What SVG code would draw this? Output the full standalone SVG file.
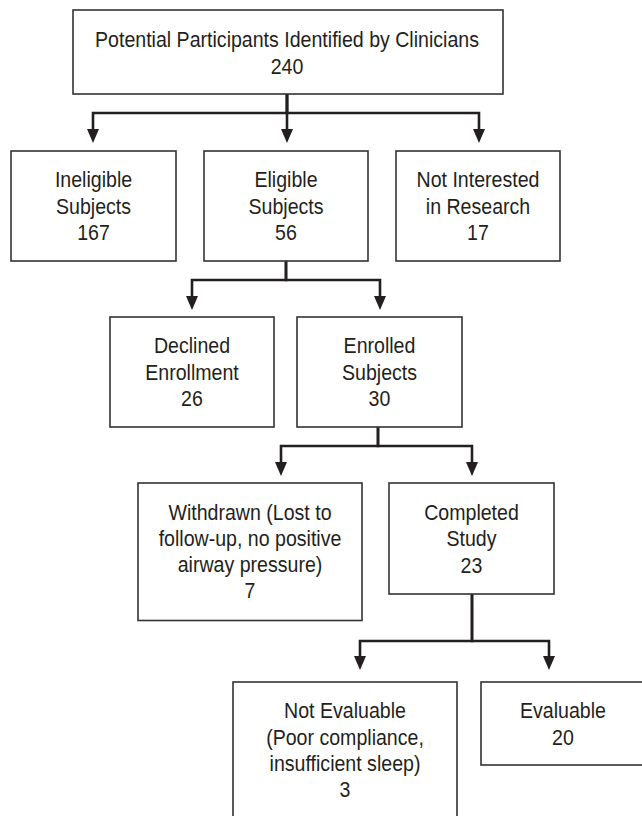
<svg xmlns="http://www.w3.org/2000/svg" width="642" height="816" viewBox="0 0 642 816">
<style>
.box{fill:#fff;stroke:#333;stroke-width:1.6}
.t{font-family:"Liberation Sans",Arial,sans-serif;font-size:22px;fill:#231f20;text-anchor:middle}
.c{fill:none;stroke:#231f20;stroke-width:2.6;marker-end:url(#ah)}
</style>
<defs>
<marker id="ah" markerUnits="userSpaceOnUse" markerWidth="15" markerHeight="13" refX="0" refY="6" orient="auto" viewBox="0 0 15 12">
<path d="M0,0 L14,6 L0,12 z" fill="#231f20"/>
</marker>
</defs>
<rect width="642" height="816" fill="#fff"/>
<g id="connectors">
<path class="c" d="M287,94 V113 H93 V129"/>
<path class="c" d="M287,94 V129"/>
<path class="c" d="M287,94 V113 H479 V129"/>
<path class="c" d="M286,261 V280 H192 V296"/>
<path class="c" d="M286,261 V280 H380 V296"/>
<path class="c" d="M378,427 V446 H281 V462"/>
<path class="c" d="M378,427 V446 H472 V462"/>
<path class="c" d="M472,594 V641 H360 V656"/>
<path class="c" d="M472,594 V641 H549 V656"/>
</g>
<g id="n-potential">
<rect class="box" x="73" y="10" width="430" height="84"/>
<g transform="translate(287,0) scale(0.89,1)">
<text class="t" x="0" y="47">Potential Participants Identified by Clinicians</text>
<text class="t" x="0" y="74.5">240</text>
</g>
</g>
<g id="n-ineligible">
<rect class="box" x="11" y="151" width="165" height="110"/>
<g transform="translate(93.5,0) scale(0.89,1)">
<text class="t" x="0" y="187.5">Ineligible</text>
<text class="t" x="0" y="214">Subjects</text>
<text class="t" x="0" y="240">167</text>
</g>
</g>
<g id="n-eligible">
<rect class="box" x="204" y="151" width="164" height="110"/>
<g transform="translate(286,0) scale(0.89,1)">
<text class="t" x="0" y="187.5">Eligible</text>
<text class="t" x="0" y="214">Subjects</text>
<text class="t" x="0" y="240">56</text>
</g>
</g>
<g id="n-notinterested">
<rect class="box" x="396" y="151" width="164" height="110"/>
<g transform="translate(478,0) scale(0.89,1)">
<text class="t" x="0" y="187.5">Not Interested</text>
<text class="t" x="0" y="214">in Research</text>
<text class="t" x="0" y="240">17</text>
</g>
</g>
<g id="n-declined">
<rect class="box" x="110" y="317" width="164" height="110"/>
<g transform="translate(192,0) scale(0.89,1)">
<text class="t" x="0" y="353.5">Declined</text>
<text class="t" x="0" y="380">Enrollment</text>
<text class="t" x="0" y="406.5">26</text>
</g>
</g>
<g id="n-enrolled">
<rect class="box" x="297" y="317" width="165" height="110"/>
<g transform="translate(379.5,0) scale(0.89,1)">
<text class="t" x="0" y="353.5">Enrolled</text>
<text class="t" x="0" y="380">Subjects</text>
<text class="t" x="0" y="406.5">30</text>
</g>
</g>
<g id="n-withdrawn">
<rect class="box" x="138" y="483" width="224" height="137.5"/>
<g transform="translate(250,0) scale(0.89,1)">
<text class="t" x="0" y="520">Withdrawn (Lost to</text>
<text class="t" x="0" y="546.5">follow-up, no positive</text>
<text class="t" x="0" y="572">airway pressure)</text>
<text class="t" x="0" y="598">7</text>
</g>
</g>
<g id="n-completed">
<rect class="box" x="389" y="483" width="165" height="111"/>
<g transform="translate(471.5,0) scale(0.89,1)">
<text class="t" x="0" y="520">Completed</text>
<text class="t" x="0" y="546.5">Study</text>
<text class="t" x="0" y="573">23</text>
</g>
</g>
<g id="n-notevaluable">
<rect class="box" x="233" y="682" width="224" height="140"/>
<g transform="translate(345,0) scale(0.89,1)">
<text class="t" x="0" y="718.5">Not Evaluable</text>
<text class="t" x="0" y="745">(Poor compliance,</text>
<text class="t" x="0" y="771">insufficient sleep)</text>
<text class="t" x="0" y="797.5">3</text>
</g>
</g>
<g id="n-evaluable">
<rect class="box" x="481" y="682" width="164" height="83"/>
<g transform="translate(563,0) scale(0.89,1)">
<text class="t" x="0" y="718.5">Evaluable</text>
<text class="t" x="0" y="745">20</text>
</g>
</g>
</svg>
